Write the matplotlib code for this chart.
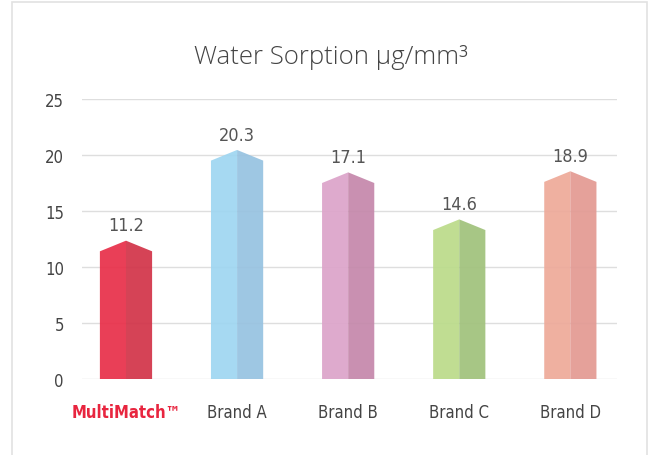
"""Water sorption bar chart with peaked (pentagon) bars."""
import matplotlib
import matplotlib.pyplot as plt
from matplotlib.patches import Polygon, Rectangle

matplotlib.use("Agg")

categories = ["MultiMatch™", "Brand A", "Brand B", "Brand C", "Brand D"]
labels = ["11.2", "20.3", "17.1", "14.6", "18.9"]
# bar shoulder heights as drawn in the picture
heights = [11.4, 19.5, 17.5, 13.3, 17.6]
left_colors = ["#e8304a", "#9fd6f1", "#dca4ca", "#bbdb8a", "#eeaa99"]
right_colors = ["#d23449", "#97c3e1", "#c588ab", "#a1c27c", "#e39a93"]

COND = ["Liberation Sans Narrow", "DejaVu Sans"]
roof = 0.95
w = 0.47

fig = plt.figure(figsize=(6.5, 4.56), dpi=100)
fig.patches.append(
    Rectangle((12 / 650, -0.05), 635 / 650, 1 - 3 / 456 + 0.05,
              transform=fig.transFigure, fill=False, ec="#e2e2e2", lw=1.2)
)
ax = fig.add_axes([82 / 650, 1 - 380 / 456, 535 / 650, 280 / 456])
ax.set_xlim(-0.396, 4.42)
ax.set_ylim(0, 25)

for y in range(0, 30, 5):
    ax.axhline(y, color="#dedede", lw=1.0, zorder=1)

for i, (h, lc, rc) in enumerate(zip(heights, left_colors, right_colors)):
    peak = h + roof
    ax.add_patch(Polygon([(i - w / 2, 0), (i, 0), (i, peak), (i - w / 2, h)],
                         closed=True, fc=lc, ec="none", zorder=2, alpha=0.93))
    ax.add_patch(Polygon([(i, 0), (i + w / 2, 0), (i + w / 2, h), (i, peak)],
                         closed=True, fc=rc, ec="none", zorder=2, alpha=0.93))
    ax.annotate(labels[i], xy=(i, peak), xytext=(0, 4.5), textcoords="offset points",
                ha="center", va="bottom", fontsize=13, color="#555555",
                family=COND, fontstretch="condensed", zorder=4)

for s in ax.spines.values():
    s.set_visible(False)
ax.set_yticks(range(0, 30, 5))
ax.set_yticklabels([str(v) for v in range(0, 30, 5)], family=COND,
                   fontstretch="condensed", fontsize=12, color="#444444")
ax.tick_params(axis="y", length=0, pad=13)
ax.set_xticks(range(len(categories)))
ax.set_xticklabels(categories, family=COND, fontstretch="condensed",
                   fontsize=12, color="#444444")
ax.tick_params(axis="x", length=0, pad=17)
first = ax.get_xticklabels()[0]
first.set_color("#e8253f")
first.set_fontweight("bold")

fig.text(331 / 650, 1 - 57 / 456, "Water Sorption µg/mm³", ha="center", va="center",
         fontsize=18.5, color="#444444", family=["Open Sans", "DejaVu Sans"],
         fontweight="light")

fig.savefig("out.png", dpi=100)
plt.close(fig)
